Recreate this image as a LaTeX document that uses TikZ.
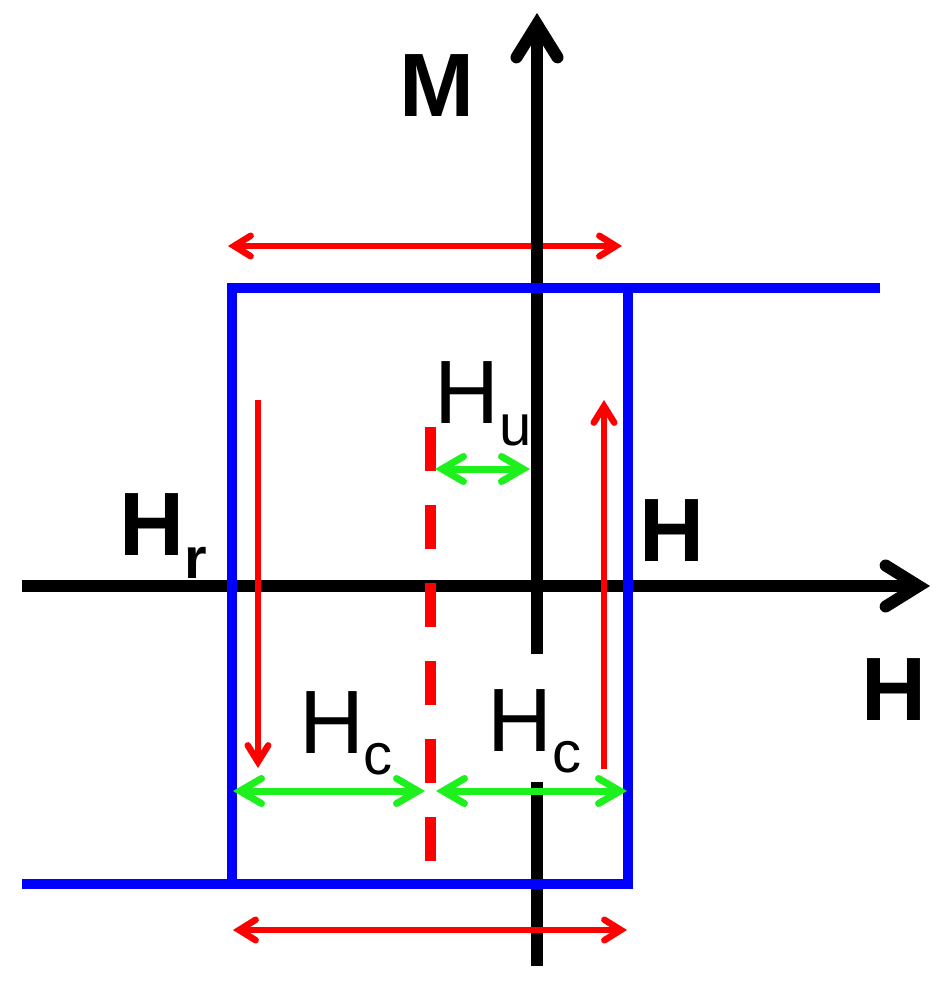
\documentclass[tikz,border=0pt]{standalone}
\usepackage{fontspec}
\setmainfont{Liberation Sans}
\usetikzlibrary{arrows.meta}
\pgfdeclarearrow{
  name = Chev,
  parameters = {\the\pgfarrowlength,\the\pgfarrowwidth,\the\pgflinewidth},
  setup code = {
    \pgfmathsetmacro\chevext{0.5*\pgflinewidth*veclen(\pgfarrowlength,0.5*\pgfarrowwidth)/(0.5*\pgfarrowwidth)}
    \pgfarrowssettipend{\chevext pt}
    \pgfarrowssetlineend{-0.5\pgflinewidth}
    \pgfarrowssavethe\pgfarrowlength
    \pgfarrowssavethe\pgfarrowwidth
  },
  drawing code = {
    \pgfsetdash{}{0pt}
    \pgfsetroundcap
    \pgfsetmiterjoin
    \pgfpathmoveto{\pgfqpoint{-\pgfarrowlength}{0.5\pgfarrowwidth}}
    \pgfpathlineto{\pgfpointorigin}
    \pgfpathlineto{\pgfqpoint{-\pgfarrowlength}{-0.5\pgfarrowwidth}}
    \pgfusepathqstroke
  },
  defaults = {length = 16pt, width = 20pt}
}
\definecolor{lgreen}{RGB}{30,240,30}
\definecolor{pblue}{RGB}{0,0,255}
\definecolor{pred}{RGB}{255,0,0}
\newcommand{\lowsub}[2]{\raisebox{-#1}{\fontsize{58}{58}\selectfont #2}}
\begin{document}
\begin{tikzpicture}[x=1pt,y=-1pt,
  axisline/.style={line width=12pt, black, line cap=butt},
  axisarrow/.style={axisline, >={Chev[length=33pt,width=41pt]}, ->},
  loopline/.style={line width=9.5pt, pblue, line join=miter, line cap=butt},
  redarr/.style={line width=6.5pt, pred, >={Chev[length=16.5pt,width=20.5pt]}, <->},
  redone/.style={line width=6.5pt, pred, >={Chev[length=16.5pt,width=20.5pt]}, ->},
  greenarr/.style={line width=7pt, lgreen, >={Chev[length=21.5pt,width=25pt]}, <->},
  reddash/.style={line width=11pt, pred, dash pattern=on 44pt off 34pt, line cap=butt},
  lbl/.style={inner sep=0pt, outer sep=0pt, anchor=base west, font=\fontsize{90}{90}\selectfont},
  blbl/.style={inner sep=0pt, outer sep=0pt, anchor=base west, font=\fontsize{90}{90}\selectfont\bfseries},
]
\useasboundingbox (0,0) rectangle (938,987);

% coordinates
\coordinate (hl) at (22,586);
\coordinate (hr) at (930,586);
\coordinate (mtop) at (537,13);
\coordinate (mgapt) at (537,654);
\coordinate (mgapb) at (537,782);
\coordinate (mbot) at (537,966);

\coordinate (bl0) at (22,884);
\coordinate (br) at (628,884);
\coordinate (tr) at (628,288);
\coordinate (bl) at (232,884);
\coordinate (tl) at (232,288);
\coordinate (tr0) at (880,288);

\coordinate (rtL) at (228,246);
\coordinate (rtR) at (622,246);
\coordinate (rbL) at (233,930);
\coordinate (rbR) at (627,930);
\coordinate (rlT) at (258,400);
\coordinate (rlB) at (258,768);
\coordinate (rrB) at (604,769);
\coordinate (rrT) at (604,400);

\coordinate (dT) at (430,427);
\coordinate (dB) at (430,861);

\coordinate (guL) at (435,469);
\coordinate (guR) at (530,469);
\coordinate (gc1L) at (233,791);
\coordinate (gc1R) at (425,791);
\coordinate (gc2L) at (436,791);
\coordinate (gc2R) at (627,791);

% top red double arrow (under M axis)
\draw[redarr] (rtL) -- (rtR);

% axes
\draw[axisarrow] (hl) -- (hr);
\draw[axisarrow] (mgapt) -- (mtop);
\draw[axisline] (mgapb) -- (mbot);

% hysteresis loop
\draw[loopline] (bl0) -- (br) -- (tr);
\draw[loopline] (bl) -- (tl) -- (tr0);

% dashed shifted centre
\draw[reddash] (dT) -- (dB);

% red arrows
\draw[redarr] (rbL) -- (rbR);
\draw[redone] (rlT) -- (rlB);
\draw[redone] (rrB) -- (rrT);

% green arrows
\draw[greenarr] (guL) -- (guR);
\draw[greenarr] (gc1L) -- (gc1R);
\draw[greenarr] (gc2L) -- (gc2R);

% labels
\node[blbl] (lM) at (399.6,117) {M};
\node[lbl] (lHu) at (434,423) {H\lowsub{22pt}{u}};
\node[blbl] (lH1) at (639.5,561) {H};
\node[blbl] (lHr) at (119.5,555) {H\lowsub{23pt}{r}};
\node[blbl] (lH2) at (861,720) {H};
\node[lbl] (lHc1) at (299,753) {H\lowsub{21pt}{c}};
\node[lbl] (lHc2) at (487,751) {H\lowsub{21pt}{c}};
\end{tikzpicture}
\end{document}
